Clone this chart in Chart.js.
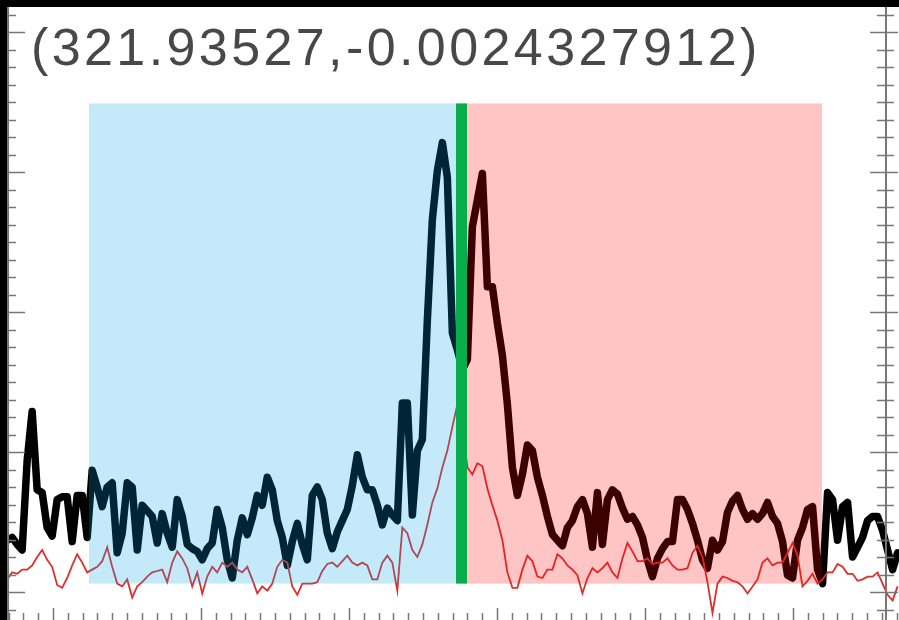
<!DOCTYPE html>
<html>
<head>
<meta charset="utf-8">
<script src="https://cdn.jsdelivr.net/npm/chart.js@4.4.1/dist/chart.umd.min.js"></script>
<style>
  html, body { margin: 0; padding: 0; background: #000; overflow: hidden; }
  #wrap { position: absolute; left: 7px; top: 7px; width: 892px; height: 613px; background: #fff; }
</style>
</head>
<body>
<div id="wrap"><canvas id="spec" width="892" height="613"></canvas></div>
<script>
// channel grid of the spectrum (km/s)
const velStart = -33.1
const chanWidth = 0.338

// main spectrum, K
const spectrum = [
  0.37, 0.39, 0.34, 0.30, 0.94, 1.29, 0.73, 0.71, 0.46, 0.40,
  0.66, 0.68, 0.68, 0.36, 0.69, 0.69, 0.39, 0.87, 0.75, 0.61,
  0.75, 0.78, 0.28, 0.42, 0.78, 0.75, 0.30, 0.62, 0.58, 0.54,
  0.35, 0.56, 0.42, 0.32, 0.66, 0.54, 0.34, 0.31, 0.29, 0.23,
  0.31, 0.35, 0.59, 0.46, 0.23, 0.10, 0.37, 0.53, 0.41, 0.53,
  0.69, 0.62, 0.82, 0.73, 0.51, 0.39, 0.19, 0.36, 0.49, 0.34,
  0.23, 0.69, 0.75, 0.66, 0.42, 0.31, 0.43, 0.51, 0.59, 0.76,
  0.98, 0.82, 0.73, 0.73, 0.62, 0.48, 0.60, 0.55, 0.51, 1.35,
  1.35, 0.55, 1.01, 1.09, 1.94, 2.66, 3.01, 3.21, 2.96, 1.85,
  1.73, 1.59, 1.66, 2.61, 2.80, 2.99, 2.18, 2.18, 1.92, 1.69,
  1.34, 0.89, 0.69, 0.84, 1.05, 1.01, 0.82, 0.69, 0.54, 0.41,
  0.37, 0.33, 0.46, 0.51, 0.61, 0.66, 0.56, 0.32, 0.71, 0.34,
  0.66, 0.73, 0.70, 0.60, 0.52, 0.54, 0.48, 0.39, 0.23, 0.11,
  0.24, 0.31, 0.36, 0.36, 0.66, 0.66, 0.59, 0.49, 0.37, 0.23,
  0.17, 0.37, 0.30, 0.36, 0.57, 0.65, 0.69, 0.59, 0.52, 0.56,
  0.52, 0.56, 0.64, 0.54, 0.49, 0.36, 0.12, 0.10, 0.37, 0.46,
  0.59, 0.61, 0.16, 0.06, 0.71, 0.66, 0.37, 0.61, 0.64, 0.25,
  0.32, 0.39, 0.51, 0.54, 0.54, 0.44, 0.30, 0.16, 0.28
]

// second (thin red) spectrum, K
const reference = [
  0.09, 0.14, 0.13, 0.16, 0.16, 0.19, 0.25, 0.30, 0.23, 0.18,
  0.05, 0.03, 0.10, 0.19, 0.27, 0.21, 0.14, 0.16, 0.18, 0.22,
  0.32, 0.18, 0.06, 0.04, 0.09, -0.04, 0.04, 0.07, 0.11, 0.14,
  0.15, 0.16, 0.07, 0.21, 0.29, 0.24, 0.17, 0.04, 0.14, -0.01,
  0.11, 0.18, 0.14, 0.21, 0.18, 0.21, 0.16, 0.14, 0.18, 0.09,
  -0.01, 0.04, 0.01, 0.06, 0.18, 0.23, 0.21, 0.04, -0.02, 0.06,
  0.06, 0.06, 0.07, 0.15, 0.20, 0.21, 0.18, 0.22, 0.26, 0.21,
  0.19, 0.21, 0.19, 0.09, 0.09, 0.21, 0.26, 0.21, 0.01, 0.46,
  0.42, 0.30, 0.25, 0.34, 0.48, 0.64, 0.74, 0.89, 1.01, 1.18,
  1.34, 1.16, 0.89, 0.84, 0.92, 0.90, 0.74, 0.62, 0.51, 0.37,
  0.14, 0.03, 0.03, 0.16, 0.26, 0.22, 0.11, 0.10, 0.16, 0.16,
  0.27, 0.24, 0.19, 0.16, 0.12, -0.01, 0.10, 0.17, 0.14, 0.17,
  0.21, 0.14, 0.10, 0.24, 0.35, 0.29, 0.22, 0.22, 0.24, 0.20,
  0.21, 0.21, 0.24, 0.19, 0.16, 0.16, 0.17, 0.28, 0.33, 0.25,
  0.07, -0.15, 0.06, 0.11, 0.10, 0.08, 0.07, 0.04, -0.01, 0.04,
  0.09, 0.21, 0.24, 0.19, 0.21, 0.21, 0.28, 0.35, 0.26, 0.04,
  0.08, 0.13, 0.06, 0.09, 0.14, 0.14, 0.20, 0.18, 0.13, 0.13,
  0.08, 0.09, 0.11, 0.11, 0.14, 0.06, -0.02, -0.06, 0.04
]

// integration windows and line centre (km/s), window height (K)
const blueWindow = [-27.57, -2.40]
const redWindow = [-2.40, 21.96]
const windowTemp = [0.06, 3.49]
const centerVel = -2.40

const position = '(321.93527,-0.0024327912)'

const velAxis = { min: -33.11, max: 27.16, left: -33.04, right: 26.28 }
const tempAxis = { min: -0.2, max: 4.179 }

const toPoints = vals => vals.map((v, i) => ({ x: velStart + i * chanWidth, y: v }))

const framePlugin = {
  id: 'frame',
  afterDatasetsDraw(chart) {
    const { ctx, scales: { x, y } } = chart
    const h = chart.height
    ctx.save()

    const yTop = y.getPixelForValue(windowTemp[1])
    const yBot = y.getPixelForValue(windowTemp[0])
    const bx0 = x.getPixelForValue(blueWindow[0]), bx1 = x.getPixelForValue(blueWindow[1])
    const rx0 = x.getPixelForValue(redWindow[0]), rx1 = x.getPixelForValue(redWindow[1])
    ctx.fillStyle = 'rgba(0,163,233,0.23)'
    ctx.fillRect(bx0, yTop, bx1 - bx0, yBot - yTop)
    ctx.fillStyle = 'rgba(255,0,0,0.23)'
    ctx.fillRect(rx0, yTop, rx1 - rx0, yBot - yTop)

    const cx = x.getPixelForValue(centerVel)
    ctx.fillStyle = '#09ad4c'
    ctx.fillRect(cx - 5.5, yTop, 11, yBot - yTop)

    // frame and inward ticks
    const lx = x.getPixelForValue(velAxis.left)
    const rx = x.getPixelForValue(velAxis.right)
    ctx.strokeStyle = '#777'
    ctx.lineWidth = 2
    ctx.beginPath()
    ctx.moveTo(lx, 0); ctx.lineTo(lx, h)
    ctx.moveTo(rx, 0); ctx.lineTo(rx, h)
    ctx.stroke()

    ctx.lineWidth = 1.5
    ctx.beginPath()
    for (let t = -0.125; t <= 4.2; t += 0.125) {
      const py = Math.round(y.getPixelForValue(t)) + 0.5
      const major = Math.abs(t - Math.round(t)) < 1e-6
      ctx.moveTo(lx, py); ctx.lineTo(lx + (major ? 17 : 8), py)
      ctx.moveTo(rx - (major ? 16 : 9), py); ctx.lineTo(rx + (major ? 12 : 8), py)
    }
    for (let v = -33; v <= 27; v += 1) {
      const px = Math.round(x.getPixelForValue(v)) + 0.5
      const major = v % 10 === 0
      ctx.moveTo(px, h); ctx.lineTo(px, h - (major ? 12 : 7))
    }
    ctx.stroke()

    ctx.fillStyle = '#484848'
    ctx.font = '52px "Liberation Sans", Arial, sans-serif'
    ctx.letterSpacing = '3.4px'
    ctx.textBaseline = 'alphabetic'
    ctx.fillText(position, 24, 58)
    ctx.restore()
  }
}

new Chart(document.getElementById('spec'), {
  type: 'line',
  data: {
    datasets: [
      {
        data: toPoints(spectrum),
        borderColor: '#000',
        borderWidth: 7.5,
        borderJoinStyle: 'round',
        borderCapStyle: 'round',
        pointRadius: 0,
        tension: 0,
        order: 2
      },
      {
        data: toPoints(reference),
        borderColor: '#dd2f2b',
        borderWidth: 1.8,
        pointRadius: 0,
        tension: 0,
        order: 1
      }
    ]
  },
  options: {
    responsive: false,
    animation: false,
    layout: { padding: 0 },
    plugins: { legend: { display: false }, tooltip: { enabled: false } },
    events: [],
    scales: {
      x: { type: 'linear', display: false, min: velAxis.min, max: velAxis.max },
      y: { type: 'linear', display: false, min: tempAxis.min, max: tempAxis.max }
    }
  },
  plugins: [framePlugin]
})
</script>
</body>
</html>
